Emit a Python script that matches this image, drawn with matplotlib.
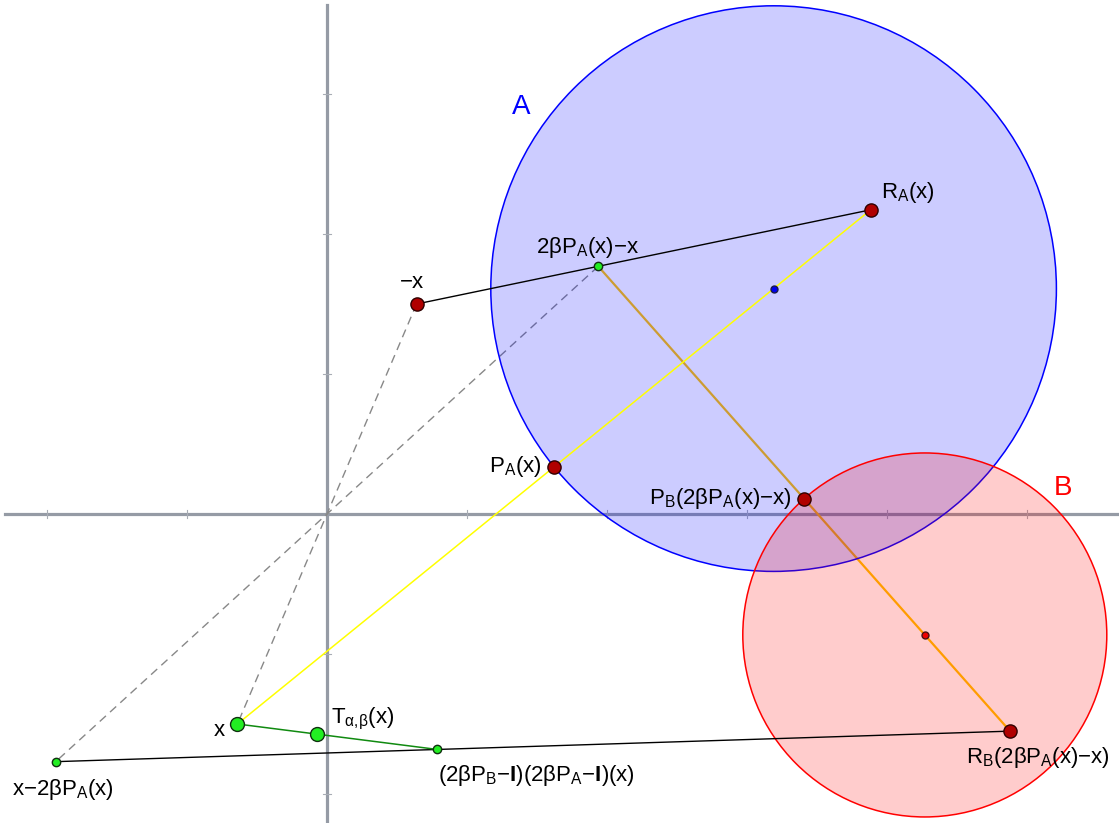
import matplotlib
matplotlib.use("Agg")
import matplotlib.pyplot as plt
from matplotlib.patches import Circle

plt.rcParams['font.family'] = ['Liberation Sans', 'DejaVu Sans']
plt.rcParams['mathtext.fontset'] = 'custom'
plt.rcParams['mathtext.rm'] = 'Liberation Sans'
plt.rcParams['mathtext.it'] = 'Liberation Sans'
plt.rcParams['mathtext.bf'] = 'Liberation Sans:bold'

# sets A and B (center, radius)
center_a = (3.19, 1.61)
radius_a = 2.02
center_b = (4.27, -0.864)
radius_b = 1.3

# points of the construction (alpha = beta = 0.4)
pt_x = (-0.64, -1.5)
pt_neg_x = (0.64, 1.5)
pt_pa = (1.622, 0.337)
pt_ra = (3.884, 2.173)
pt_y = (1.9375, 1.769)          # 2bP_A(x) - x
pt_neg_y = (-1.9375, -1.769)    # x - 2bP_A(x)
pt_pb = (3.408, 0.109)
pt_rb = (4.879, -1.551)
pt_z = (0.789, -1.682)          # (2bP_B - I)(2bP_A - I)(x)
pt_t = (-0.068, -1.573)

xticks = [-2, -1, 1, 2, 3, 4, 5]
yticks = [-2, -1, 1, 2, 3]

px = 1 / 140.0
x0, y0 = 327, 514


def to_data(u, v):
    return ((u - x0) * px, (y0 - v) * px)


fig = plt.figure(figsize=(11.19, 8.23), dpi=100)
ax = fig.add_axes([0, 0, 1, 1])
ax.set_xlim(to_data(0, 0)[0], to_data(1119, 0)[0])
ax.set_ylim(to_data(0, 823)[1], to_data(0, 0)[1])
ax.set_aspect('equal')
ax.axis('off')

# coordinate axes
axc = '#959ba5'
ax.plot([to_data(5, 0)[0], to_data(1119, 0)[0]], [0, 0], color=axc, lw=2.3, zorder=1)
ax.plot([0, 0], [to_data(0, 823)[1], to_data(0, 5)[1]], color=axc, lw=2.3, zorder=1)
tl = 4 * px
for t in xticks:
    ax.plot([t, t], [-tl, tl], color='#a8adb5', lw=0.8, zorder=1)
for t in yticks:
    ax.plot([-tl, tl], [t, t], color='#a8adb5', lw=0.8, zorder=1)

# reflection through B, under the fills
ax.plot([pt_y[0], pt_rb[0]], [pt_y[1], pt_rb[1]], color='#ffc400', lw=1.6, zorder=2)

# dashed lines through the origin
ax.plot([pt_neg_x[0], pt_x[0]], [pt_neg_x[1], pt_x[1]], color='#888888',
        lw=1.0, ls=(0, (6, 4)), zorder=2)
ax.plot([pt_y[0], pt_neg_y[0]], [pt_y[1], pt_neg_y[1]], color='#888888',
        lw=1.0, ls=(0, (6, 4)), zorder=2)

# the two sets
ax.add_patch(Circle(center_a, radius_a, facecolor=(0, 0, 1, 0.2), edgecolor='#0000ff', lw=1.1, zorder=3))
ax.add_patch(Circle(center_b, radius_b, facecolor=(1, 0, 0, 0.2), edgecolor='#ff0000', lw=1.1, zorder=3))

# reflection through A
ax.plot([pt_x[0], pt_ra[0]], [pt_x[1], pt_ra[1]], color='#ffff00', lw=1.1, zorder=4)

# black and green segments
ax.plot([pt_neg_x[0], pt_ra[0]], [pt_neg_x[1], pt_ra[1]], color='black', lw=1.0, zorder=4)
ax.plot([pt_neg_y[0], pt_rb[0]], [pt_neg_y[1], pt_rb[1]], color='black', lw=1.0, zorder=4)
ax.plot([pt_x[0], pt_z[0]], [pt_x[1], pt_z[1]], color='#108a10', lw=1.1, zorder=4)

# centers
ax.plot(*center_a, 'o', ms=5, mfc='#0000ee', mec='#1a1a4a', mew=1, zorder=5)
ax.plot(*center_b, 'o', ms=5, mfc='#ee0000', mec='#4a1010', mew=1, zorder=5)

red = '#b00000'
for p in [pt_neg_x, pt_pa, pt_ra, pt_pb, pt_rb]:
    ax.plot(*p, 'o', ms=9.5, mfc=red, mec='#300000', mew=1, zorder=6)

grn = '#22ee22'
for p in [pt_x, pt_t]:
    ax.plot(*p, 'o', ms=10, mfc=grn, mec='#103010', mew=1, zorder=6)
for p in [pt_y, pt_neg_y, pt_z]:
    ax.plot(*p, 'o', ms=6, mfc=grn, mec='#103010', mew=1, zorder=6)

# labels
fs = 16
ax.text(*to_data(521, 107), 'A', color='#0000ff', fontsize=20, ha='center', va='center', zorder=7)
ax.text(*to_data(1063, 488), 'B', color='#ff0000', fontsize=20, ha='center', va='center', zorder=7)
labels = [
    ((412, 283), r'$\mathrm{{−}x}$', 'center'),
    ((536, 248), r'$\mathrm{2βP_A(x){−}x}$', 'left'),
    ((881, 193), r'$\mathrm{R_A(x)}$', 'left'),
    ((489, 467), r'$\mathrm{P_A(x)}$', 'left'),
    ((792, 499), r'$\mathrm{P_B(2βP_A(x){−}x)}$', 'right'),
    ((966, 757), r'$\mathrm{R_B(2βP_A(x){−}x)}$', 'left'),
    ((219, 731), r'$\mathrm{x}$', 'center'),
    ((331, 719), r'$\mathrm{T_{α{,}β}(x)}$', 'left'),
    ((12, 789), r'$\mathrm{x{−}2βP_A(x)}$', 'left'),
    ((438, 775), r'$\mathrm{(2βP_B{−}\mathbf{I})(2βP_A{−}\mathbf{I})(x)}$', 'left'),
]
for (u, v), s, ha in labels:
    ax.text(*to_data(u, v), s, fontsize=fs, ha=ha, va='center', zorder=7)

fig.savefig('out.png', dpi=100)
